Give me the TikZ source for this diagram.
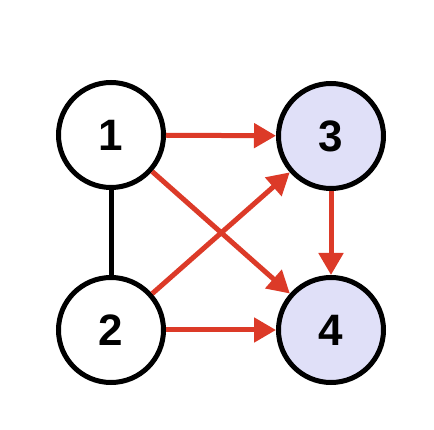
\documentclass[tikz,border=0pt]{standalone}
\usepackage{fontspec}
\setmainfont{Liberation Sans}
\usetikzlibrary{arrows.meta}
\definecolor{redarr}{RGB}{220,58,40}
\definecolor{lav}{RGB}{224,224,248}
\newcommand{\vlabel}[1]{\raisebox{-3pt}{#1}}
\begin{document}
\begin{tikzpicture}[x=1pt,y=-1pt,
  vert/.style={circle,draw=black,line width=5pt,minimum size=105pt,inner sep=0pt,
    font=\fontsize{44}{44}\selectfont\bfseries},
  vwhite/.style={vert,fill=white},
  vlav/.style={vert,fill=lav},
  redge/.style={draw=redarr,line width=5pt,-{Triangle[length=22pt,width=24pt]}},
  bedge/.style={draw=black,line width=5pt}]
\useasboundingbox (0,0) rectangle (434,430);
\node[vwhite] (n1) at (111,135) {\vlabel{1}};
\node[vlav] (n3) at (331,136) {\vlabel{3}};
\node[vwhite] (n2) at (111,330) {\vlabel{2}};
\node[vlav] (n4) at (331,330) {\vlabel{4}};
\draw[bedge] (n1) -- (n2);
\draw[redge] (n1) -- (n3);
\draw[redge] (n1) -- (n4);
\draw[redge] (n2) -- (n3);
\draw[redge] (n2) -- (n4);
\draw[redge] (n3) -- (n4);
\end{tikzpicture}
\end{document}
